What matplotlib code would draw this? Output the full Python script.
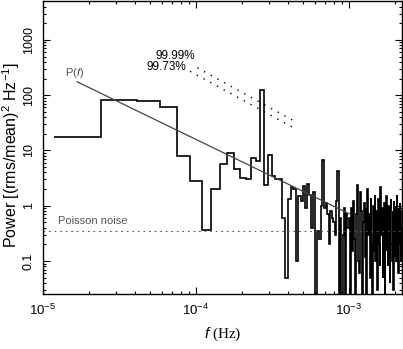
import matplotlib
matplotlib.use("Agg")
import matplotlib.pyplot as plt
from matplotlib.ticker import LogLocator, NullFormatter

plt.rcParams['font.family'] = ['Liberation Sans', 'DejaVu Sans']
plt.rcParams['mathtext.fontset'] = 'custom'
plt.rcParams['mathtext.rm'] = 'Liberation Sans'
plt.rcParams['mathtext.it'] = 'Liberation Sans:italic'
plt.rcParams['mathtext.default'] = 'regular'

# ---- data ----
# bin edges of the power spectrum (units of 1e-5 Hz)
edges_e5 = [1.18,
    2.4, 4.1, 5.8, 7.5, 9.2, 10.9, 12.6, 14.3, 16.0, 17.7,
    19.4, 21.1, 22.8, 24.5, 26.2, 27.9, 29.6, 31.3, 33.0, 34.7,
    36.4, 38.1, 39.8, 41.5, 43.2, 44.9, 46.6, 48.3, 50.0, 51.7,
    53.4, 55.1, 56.8, 58.5, 60.2, 61.9, 63.6, 65.3, 67.0, 68.7,
    70.4, 72.1, 73.8, 75.5, 77.2, 78.9, 80.6, 82.3, 84.0, 85.7,
    87.4, 89.1, 90.8, 92.5, 94.2, 95.9, 97.6, 99.3, 101.0, 102.7,
    104.4, 106.1, 107.8, 109.5, 111.2, 112.9, 114.6, 116.3, 118.0, 119.7,
    121.4, 123.1, 124.8, 126.5, 128.2, 129.9, 131.6, 133.3, 135.0, 136.7,
    138.4, 140.1, 141.8, 143.5, 145.2, 146.9, 148.6, 150.3, 152.0, 153.7,
    155.4, 157.1, 158.8, 160.5, 162.2, 163.9, 165.6, 167.3, 169.0, 170.7,
    172.4, 174.1, 175.8, 177.5, 179.2, 180.9, 182.6, 184.3, 186.0, 187.7,
    189.4, 191.1, 192.8, 194.5, 196.2, 197.9, 199.6, 201.3, 203.0, 204.7,
    206.4, 208.1, 209.8, 211.5, 213.2, 214.9, 216.6, 218.3, 220.0, 221.7]

power_low = [17.4, 82, 77, 62, 7.9, 2.8, 0.37, 2.0, 5.8, 9.1,
             4.7, 3.2, 3.0, 7.3, 6.4, 124, 2.4, 8.3]
power_mid = [3.4, 3.0, 3.0, 0.6, 0.05, 1.3, 2.2, 2.0, 0.1, 1.5,
             1.2, 2.3, 0.9, 2.5, 1.6,
             0.4, 1.8, 0.02, 0.35, 0.25, 1.0, 6.6, 0.9, 1.1, 0.7,
             0.2, 0.8, 0.6, 0.5, 0.3, 1.2, 4.3, 0.02, 0.6, 0.02,
             0.3, 0.9, 0.02, 0.7, 0.4]
power_high = [0.6, 0.02, 0.9, 0.15, 1.2, 0.25, 0.02, 0.7, 2.4, 0.1, 0.06, 1.8,
              0.8, 0.02, 0.5, 1.1, 0.12, 0.9, 0.02, 2.0, 0.3, 0.7, 0.05, 1.4,
              0.2, 0.02, 1.0, 0.15, 1.6, 0.1, 0.8, 0.03, 0.5, 1.3, 0.2, 0.08,
              2.2, 0.3, 0.9, 0.05, 0.6, 1.1, 0.02, 0.8, 0.15, 1.5, 0.4, 0.08,
              1.0, 0.3, 0.04, 0.9, 1.3, 0.2, 0.1, 0.8, 0.03, 1.2, 0.4, 0.12,
              0.95, 0.1, 1.6, 0.3, 0.7, 0.06, 0.9, 0.2, 1.1, 0.4, 0.1, 0.8]

# model power law P(f)
model_f = [1.67e-5, 1.0e-3]
model_p = [175, 0.72]
# significance levels
sig9999_f = [1.02e-4, 4.57e-4]
sig9999_p = [313, 32]
sig9973_f = [9.14e-5, 4.44e-4]
sig9973_p = [270, 25]
# Poisson noise level
poisson_level = 0.35

xtick_vals = [1e-5, 1e-4, 1e-3]
xtick_labels = [r'$10^{-5}$', r'$10^{-4}$', r'$10^{-3}$']
ytick_vals = [0.1, 1, 10, 100, 1000]
ytick_labels = ['0.1', '1', '10', '100', '1000']

# ---- plot ----
edges = [e * 1e-5 for e in edges_e5]
power = power_low + power_mid + power_high

fig = plt.figure(figsize=(4.03, 3.49), dpi=100)
ax = fig.add_axes([43/403, 1 - 294/349, 359/403, 293/349])
ax.set_xscale('log')
ax.set_yscale('log')
ax.set_xlim(1e-5, 2.22e-3)
ax.set_ylim(0.0254, 5050)

ax.axhline(poisson_level, color='#555555', lw=0.8, ls=(0, (1.5, 3.5)))
ax.plot(model_f, model_p, color='#444444', lw=0.9)
ax.plot(sig9999_f, sig9999_p, color='black', lw=1.0, ls=(0, (1, 4.5)))
ax.plot(sig9973_f, sig9973_p, color='black', lw=1.0, ls=(0, (1, 4.5)))
ax.stairs(power, edges, baseline=None, color='black', lw=1.2)

ax.text(1.39e-5, 254, r'P($\mathit{f}$)', color='#555555', fontsize=8,
        ha='left', va='center')
ax.text(9.84e-5, 515, '99.99%', fontsize=8.5, ha='right', va='center')
ax.text(8.6e-5, 326, '99.73%', fontsize=8.5, ha='right', va='center')
ax.text(1.25e-5, 0.53, 'Poisson noise', color='#555555', fontsize=8,
        ha='left', va='center')

ax.xaxis.set_major_locator(LogLocator(base=10, numticks=20))
ax.xaxis.set_minor_locator(LogLocator(base=10, subs=range(2, 10), numticks=50))
ax.yaxis.set_minor_locator(LogLocator(base=10, subs=range(2, 10), numticks=50))
ax.xaxis.set_minor_formatter(NullFormatter())
ax.yaxis.set_minor_formatter(NullFormatter())
ax.set_xticks(xtick_vals)
ax.set_xticklabels(xtick_labels, fontsize=9.5)
ax.set_yticks(ytick_vals)
ax.set_yticklabels(ytick_labels, fontsize=9, rotation=90, va='center')

ax.tick_params(which='both', direction='in', top=True, right=True, width=0.8)
ax.tick_params(which='major', length=5, pad=6)
ax.tick_params(which='minor', length=2.5)
for s in ax.spines.values():
    s.set_linewidth(1.0)

ax.set_ylabel(r'Power [(rms/mean)$^2$ Hz$^{-1}$]', fontsize=11.5)
ax.yaxis.set_label_coords(-0.058, 0.473)
ax.set_xlabel(r'$\mathit{f}$ (Hz)', fontsize=11, family='Liberation Serif', labelpad=6)

fig.savefig('out.png', dpi=100)
